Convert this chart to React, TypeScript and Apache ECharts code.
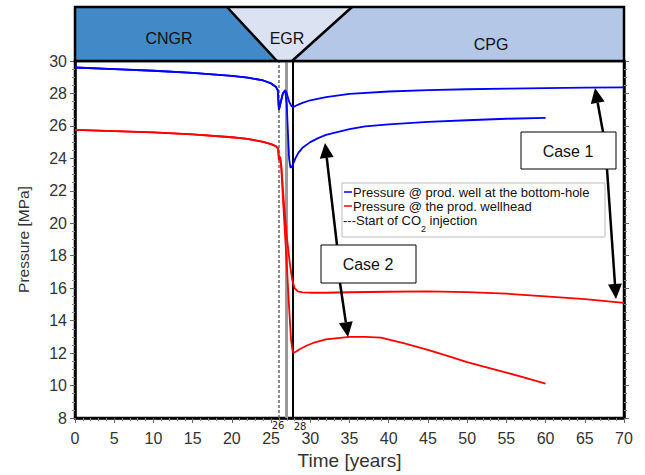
import React, { useEffect, useRef } from "react";
import * as echarts from "echarts";

// ---- Data ----
const case1BottomTime = [0, 5, 10, 15, 20, 22, 24, 25, 25.6, 25.85, 26.0, 26.2, 26.5, 26.8, 27.0, 27.3, 27.6, 27.9, 28.4, 29, 30, 32, 35, 40, 45, 50, 55, 60, 65, 70];
const case1BottomPressure = [29.6, 29.5, 29.4, 29.27, 29.08, 28.98, 28.8, 28.62, 28.42, 28.2, 27.0, 27.4, 28.0, 28.2, 28.0, 27.5, 27.22, 27.18, 27.3, 27.42, 27.58, 27.78, 27.97, 28.12, 28.2, 28.26, 28.3, 28.33, 28.36, 28.38];

const case2BottomTime = [0, 5, 10, 15, 20, 22, 24, 25, 25.6, 25.85, 26.0, 26.2, 26.5, 26.8, 27.0, 27.15, 27.3, 27.45, 27.6, 27.8, 28.1, 28.5, 29, 30, 31, 32, 35, 37, 40, 45, 50, 55, 60];
const case2BottomPressure = [29.6, 29.5, 29.4, 29.27, 29.08, 28.98, 28.8, 28.62, 28.42, 28.2, 27.0, 27.4, 28.0, 28.2, 27.3, 25.6, 24.0, 23.45, 23.45, 23.65, 24.0, 24.35, 24.65, 25.0, 25.25, 25.45, 25.8, 25.97, 26.1, 26.25, 26.35, 26.44, 26.5];

const case1HeadTime = [0, 5, 10, 15, 20, 22, 24, 25, 25.6, 25.9, 26.0, 26.15, 26.3, 26.6, 27.0, 27.4, 27.7, 28.0, 28.4, 29, 30, 32, 35, 40, 45, 50, 55, 60, 65, 70];
const case1HeadPressure = [25.75, 25.68, 25.6, 25.48, 25.3, 25.2, 25.02, 24.88, 24.75, 24.6, 23.9, 24.1, 23.6, 21.5, 19.2, 17.5, 16.5, 16.0, 15.8, 15.74, 15.72, 15.72, 15.75, 15.78, 15.8, 15.76, 15.66, 15.5, 15.33, 15.1];

const case2HeadTime = [0, 5, 10, 15, 20, 22, 24, 25, 25.6, 25.9, 26.0, 26.15, 26.3, 26.6, 27.0, 27.3, 27.55, 27.75, 27.9, 28.2, 28.7, 29.5, 30.5, 32, 35, 37, 39, 42, 45, 48, 50, 52, 55, 58, 60];
const case2HeadPressure = [25.75, 25.68, 25.6, 25.48, 25.3, 25.2, 25.02, 24.88, 24.75, 24.6, 23.9, 24.1, 23.4, 20.8, 17.5, 14.8, 12.8, 12.1, 12.02, 12.1, 12.25, 12.45, 12.65, 12.85, 13.0, 13.0, 12.95, 12.6, 12.2, 11.75, 11.45, 11.18, 10.8, 10.4, 10.12];

const injectionLines = [26, 26.9, 27.8];
const xTickLabels = ["0", "5", "10", "15", "20", "25", "30", "35", "40", "45", "50", "55", "60", "65", "70"];
const phaseLabels = ["CNGR", "EGR", "CPG"];
const legendLabels = [
  "Pressure @ prod. well at the bottom-hole",
  "Pressure @ the prod. wellhead",
];

const FONT = "'Liberation Sans', Arial, Helvetica, sans-serif";

function pairs(t: number[], v: number[]) {
  return t.map((x, i) => [x, v[i]]);
}

function arrow(x1: number, y1: number, x2: number, y2: number) {
  const dx = x2 - x1;
  const dy = y2 - y1;
  const L = Math.hypot(dx, dy);
  const ux = dx / L;
  const uy = dy / L;
  const hl = 15;
  const hw = 7;
  const bx = x2 - ux * hl;
  const by = y2 - uy * hl;
  const nx = -uy;
  const ny = ux;
  return [
    { type: "line", z: 50, shape: { x1, y1, x2: bx, y2: by }, style: { stroke: "#000", lineWidth: 2.5 } },
    {
      type: "polygon",
      z: 50,
      shape: { points: [[x2, y2], [bx + nx * hw, by + ny * hw], [bx - nx * hw, by - ny * hw]] },
      style: { fill: "#000" },
    },
  ];
}

function measure(text: string, size: number) {
  const c = document.createElement("canvas").getContext("2d");
  if (!c) return text.length * size * 0.5;
  c.font = `${size}px ${FONT}`;
  return c.measureText(text).width;
}

export default function App() {
  const ref = useRef<HTMLDivElement>(null);

  useEffect(() => {
    const chart = echarts.init(ref.current!, null, { renderer: "svg" });

    const L = 75, R = 624, T = 61, B = 418;
    const HT = 7;
    const LF = 13;

    const subStart = 343 + measure("---Start of CO", LF);

    const graphic: any[] = [
      // header band
      { type: "polygon", z: 40, shape: { points: [[L, HT], [227, HT], [277, T], [L, T]] }, style: { fill: "#4189c7" } },
      { type: "polygon", z: 40, shape: { points: [[227, HT], [352, HT], [292, T], [277, T]] }, style: { fill: "#dbe3f3" } },
      { type: "polygon", z: 40, shape: { points: [[352, HT], [R, HT], [R, T], [292, T]] }, style: { fill: "#b4c7e7" } },
      { type: "rect", z: 41, shape: { x: L, y: HT, width: R - L, height: T - HT }, style: { fill: "none", stroke: "#000", lineWidth: 2.5 } },
      { type: "line", z: 41, shape: { x1: 227, y1: HT, x2: 277, y2: T }, style: { stroke: "#000", lineWidth: 2.5 } },
      { type: "line", z: 41, shape: { x1: 352, y1: HT, x2: 292, y2: T }, style: { stroke: "#000", lineWidth: 2.5 } },
      { type: "text", z: 42, x: 169, y: 38, style: { text: phaseLabels[0], font: `16px ${FONT}`, fill: "#111", align: "center", verticalAlign: "middle" } },
      { type: "text", z: 42, x: 287, y: 38, style: { text: phaseLabels[1], font: `16px ${FONT}`, fill: "#111", align: "center", verticalAlign: "middle" } },
      { type: "text", z: 42, x: 491, y: 44, style: { text: phaseLabels[2], font: `16px ${FONT}`, fill: "#111", align: "center", verticalAlign: "middle" } },

      // legend
      { type: "rect", z: 30, shape: { x: 342, y: 183, width: 263, height: 54 }, style: { fill: "#fff", stroke: "#bbb", lineWidth: 1 } },
      { type: "line", z: 31, shape: { x1: 344, y1: 192, x2: 352, y2: 192 }, style: { stroke: "#0000ff", lineWidth: 1.5 } },
      { type: "line", z: 31, shape: { x1: 344, y1: 206, x2: 352, y2: 206 }, style: { stroke: "#ff0000", lineWidth: 1.5 } },
      { type: "text", z: 31, x: 353, y: 192, style: { text: legendLabels[0], font: `${LF}px ${FONT}`, fill: "#111", verticalAlign: "middle" } },
      { type: "text", z: 31, x: 353, y: 206, style: { text: legendLabels[1], font: `${LF}px ${FONT}`, fill: "#111", verticalAlign: "middle" } },
      { type: "text", z: 31, x: 343, y: 220, style: { text: "---Start of CO", font: `${LF}px ${FONT}`, fill: "#111", verticalAlign: "middle" } },
      { type: "text", z: 31, x: subStart, y: 224, style: { text: "2", font: `9px ${FONT}`, fill: "#111", verticalAlign: "top" } },
      { type: "text", z: 31, x: subStart + 5, y: 220, style: { text: " injection", font: `${LF}px ${FONT}`, fill: "#111", verticalAlign: "middle" } },

      // small labels under the axis
      { type: "text", z: 31, x: 278, y: 425, style: { text: "26", font: `10px 'DejaVu Sans', sans-serif`, fill: "#222", align: "center", verticalAlign: "middle" } },
      { type: "text", z: 31, x: 300, y: 426, style: { text: "28", font: `10px 'DejaVu Sans', sans-serif`, fill: "#222", align: "center", verticalAlign: "middle" } },

      // Case 1
      ...arrow(603, 132, 595, 88),
      ...arrow(607, 169, 616, 299),
      { type: "rect", z: 51, shape: { x: 521, y: 132, width: 95, height: 37 }, style: { fill: "#fff", stroke: "#000", lineWidth: 1 } },
      { type: "text", z: 52, x: 568, y: 151, style: { text: "Case 1", font: `16px ${FONT}`, fill: "#111", align: "center", verticalAlign: "middle" } },

      // Case 2
      ...arrow(337, 245, 325, 143),
      ...arrow(340, 283, 348, 337),
      { type: "rect", z: 51, shape: { x: 321, y: 245, width: 95, height: 38 }, style: { fill: "#fff", stroke: "#000", lineWidth: 1 } },
      { type: "text", z: 52, x: 368, y: 264, style: { text: "Case 2", font: `16px ${FONT}`, fill: "#111", align: "center", verticalAlign: "middle" } },
    ];

    const lineSeries = (name: string, data: number[][], color: string) => ({
      name,
      type: "line",
      data,
      showSymbol: false,
      smooth: false,
      lineStyle: { color, width: 1.8 },
      itemStyle: { color },
      z: 5,
    });

    chart.setOption({
      animation: false,
      backgroundColor: "#fff",
      grid: { left: L, right: 645 - R, top: T, bottom: 475 - B, show: true, borderColor: "#000", borderWidth: 2.5 },
      xAxis: [
        {
          type: "value",
          min: 0,
          max: 70,
          interval: 5,
          name: "Time [years]",
          nameLocation: "middle",
          nameGap: 33,
          nameTextStyle: { fontSize: 19, color: "#333", fontFamily: FONT },
          axisLine: { show: true, lineStyle: { color: "#000", width: 2.5 } },
          axisTick: { show: true, inside: false, length: 5, lineStyle: { color: "#666" } },
          minorTick: { show: true, splitNumber: 5, length: 3, lineStyle: { color: "#888" } },
          axisLabel: { fontSize: 16, color: "#333", fontFamily: FONT, margin: 12, formatter: (v: number) => xTickLabels[Math.round(v / 5)] ?? String(v) },
          splitLine: { show: false },
        },
      ],
      yAxis: [
        {
          type: "value",
          min: 8,
          max: 30,
          interval: 2,
          name: "Pressure [MPa]",
          nameLocation: "middle",
          nameGap: 44,
          nameTextStyle: { fontSize: 15.5, color: "#333", fontFamily: FONT },
          axisLine: { show: true, lineStyle: { color: "#000", width: 2.5 } },
          axisTick: { show: true, inside: false, length: 5, lineStyle: { color: "#666" } },
          minorTick: { show: true, splitNumber: 4, length: 3, lineStyle: { color: "#888" } },
          axisLabel: { fontSize: 16, color: "#333", fontFamily: FONT, margin: 8 },
          splitLine: { show: false },
        },
        {
          type: "value",
          position: "right",
          min: 8,
          max: 30,
          interval: 2,
          axisLine: { show: true, lineStyle: { color: "#000", width: 2.5 } },
          axisTick: { show: true, inside: false, length: 5, lineStyle: { color: "#666" } },
          minorTick: { show: true, splitNumber: 4, length: 3, lineStyle: { color: "#888" } },
          axisLabel: { show: false },
          splitLine: { show: false },
        },
      ],
      series: [
        {
          ...lineSeries("Pressure @ the prod. wellhead (case 2)", pairs(case2HeadTime, case2HeadPressure), "#ff0000"),
          markLine: {
            silent: true,
            symbol: ["none", "none"],
            label: { show: false },
            z: 3,
            data: [
              { xAxis: injectionLines[0], lineStyle: { color: "#666", width: 1.5, type: [3, 2] } },
              { xAxis: injectionLines[1], lineStyle: { color: "#9a9a9a", width: 3, type: "solid" } },
              { xAxis: injectionLines[2], lineStyle: { color: "#000", width: 2, type: "solid" } },
            ],
          },
        },
        lineSeries("Pressure @ the prod. wellhead (case 1)", pairs(case1HeadTime, case1HeadPressure), "#ff0000"),
        lineSeries("Pressure @ prod. well at the bottom-hole (case 2)", pairs(case2BottomTime, case2BottomPressure), "#0000ff"),
        lineSeries("Pressure @ prod. well at the bottom-hole (case 1)", pairs(case1BottomTime, case1BottomPressure), "#0000ff"),
      ],
      graphic,
    });

    return () => chart.dispose();
  }, []);

  return (
    <div
      ref={ref}
      style={{ position: "fixed", left: 0, top: 0, width: 645, height: 475, background: "#fff" }}
    />
  );
}
